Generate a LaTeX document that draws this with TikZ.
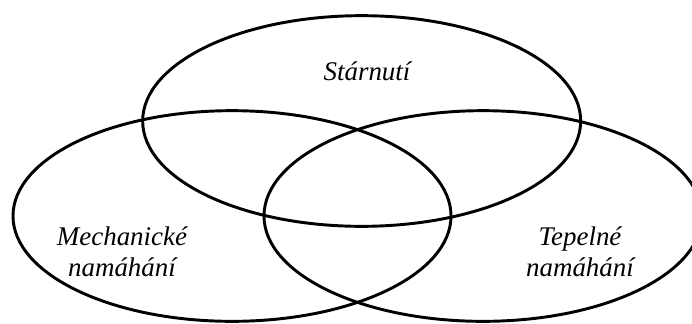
\documentclass[tikz,border=0pt]{standalone}
\usepackage{fontspec}
\setmainfont{Liberation Serif}
\usetikzlibrary{shapes.geometric}

\begin{document}
\begin{tikzpicture}[
      every node/.style={font=\fontsize{23}{26.5}\selectfont\itshape},
      circlebox/.style={draw,ellipse,line width=2.5pt,minimum width=13.14cm,minimum height=6.32cm,inner sep=0pt},
      labeltext/.style={align=center,inner sep=0pt}
  ]
    \clip (0,0) rectangle (20.76,-9.69);

    \node[circlebox] (aging) at (10.85,-3.63) {};
    \node[circlebox] (mech) at (6.96,-6.48) {};
    \node[circlebox] (heat) at (14.49,-6.48) {};

    \node[labeltext] (agingtxt) at (11.01,-2.13) {Stárnutí};
    \node[labeltext] (mechtxt) at (3.66,-7.56) {Mechanické\\namáhání};
    \node[labeltext] (heattxt) at (17.4,-7.56) {Tepelné\\namáhání};
  \end{tikzpicture}
\end{document}
